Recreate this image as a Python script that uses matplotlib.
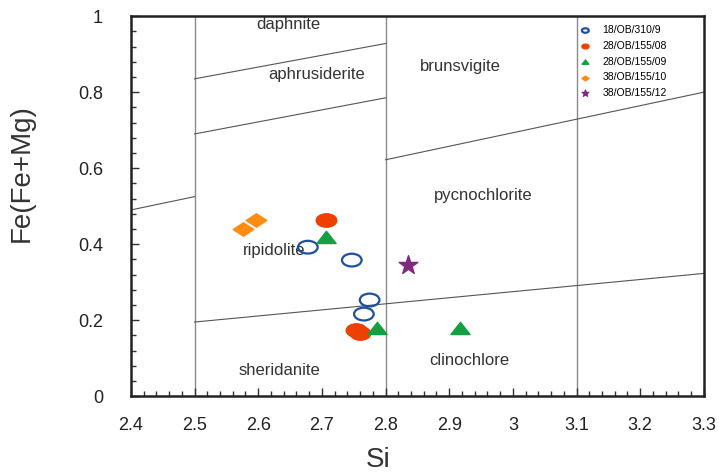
import matplotlib
matplotlib.use("Agg")
import matplotlib.pyplot as plt
import numpy as np
from matplotlib.path import Path
from matplotlib.ticker import MultipleLocator, FixedFormatter, FixedLocator

plt.rcParams['font.family'] = ['Liberation Sans', 'DejaVu Sans']

# sample data: Si vs Fe/(Fe+Mg)
s1_si = [2.678, 2.747, 2.775, 2.766]
s1_fe = [0.392, 0.358, 0.253, 0.216]
s2_si = [2.706, 2.754, 2.760]
s2_fe = [0.463, 0.175, 0.165]
s3_si = [2.706, 2.786, 2.917]
s3_fe = [0.416, 0.176, 0.176]
s4_si = [2.576, 2.596]
s4_fe = [0.440, 0.463]
s5_si = [2.835]
s5_fe = [0.345]
names = ['18/OB/310/9', '28/OB/155/08', '28/OB/155/09', '38/OB/155/10', '38/OB/155/12']

# field boundaries (Hey 1954)
vlines = [2.5, 2.8, 3.1]
bounds = [
    ([2.4, 2.5], [0.49, 0.525]),
    ([2.5, 2.8], [0.835, 0.928]),
    ([2.5, 2.8], [0.69, 0.785]),
    ([2.8, 3.3], [0.622, 0.80]),
    ([2.5, 3.3], [0.195, 0.323]),
]
fields = [('daphnite', 2.648, 0.979), ('aphrusiderite', 2.692, 0.847),
          ('brunsvigite', 2.917, 0.868), ('pycnochlorite', 2.954, 0.529),
          ('ripidolite', 2.625, 0.384), ('sheridanite', 2.634, 0.068),
          ('clinochlore', 2.932, 0.095)]

xt = [2.4, 2.5, 2.6, 2.7, 2.8, 2.9, 3.0, 3.1, 3.2, 3.3]
xtl = ['2.4', '2.5', '2.6', '2.7', '2.8', '2.9', '3', '3.1', '3.2', '3.3']
yt = [0, 0.2, 0.4, 0.6, 0.8, 1.0]
ytl = ['0', '0.2', '0.4', '0.6', '0.8', '1']


def squash(path, fy=0.65):
    # the original figure is stretched sideways, so markers are flattened
    v = path.vertices.copy()
    v[:, 1] *= fy
    return Path(v, path.codes)


ell = squash(Path.unit_circle())
dia = squash(Path([(0, 1), (1, 0), (0, -1), (-1, 0), (0, 1)],
                  [Path.MOVETO, Path.LINETO, Path.LINETO, Path.LINETO, Path.CLOSEPOLY]))
tri = squash(Path([(0, 1), (1, -0.7), (-1, -0.7), (0, 1)],
                  [Path.MOVETO, Path.LINETO, Path.LINETO, Path.CLOSEPOLY]), 0.75)

fig = plt.figure(figsize=(7.19, 4.75), dpi=100)
ax = fig.add_axes([0.182, 0.166, 0.797, 0.800])

for v in vlines:
    ax.axvline(v, color='#8a8a8a', lw=1.0, zorder=1)
for bx, by in bounds:
    ax.plot(bx, by, color='#555555', lw=0.8, zorder=1)
for t, x, y in fields:
    ax.text(x, y, t, ha='center', va='center', fontsize=12, color='#333333', zorder=2)

ax.scatter(s1_si, s1_fe, s=200, marker=ell, facecolors='none', edgecolors='#1f4fa0', linewidths=1.6, label=names[0], zorder=3)
ax.scatter(s2_si, s2_fe, s=220, marker=ell, color='#ee4000', label=names[1], zorder=3)
ax.scatter(s3_si, s3_fe, s=190, marker=tri, color='#14a040', label=names[2], zorder=3)
ax.scatter(s4_si, s4_fe, s=220, marker=dia, color='#ff8c10', label=names[3], zorder=3)
ax.scatter(s5_si, s5_fe, s=200, marker='*', color='#7e2a7e', label=names[4], zorder=3)

ax.set_xlim(2.4, 3.3)
ax.set_ylim(0, 1)
ax.xaxis.set_major_locator(FixedLocator(xt))
ax.xaxis.set_major_formatter(FixedFormatter(xtl))
ax.yaxis.set_major_locator(FixedLocator(yt))
ax.yaxis.set_major_formatter(FixedFormatter(ytl))
ax.xaxis.set_minor_locator(MultipleLocator(0.02))
ax.yaxis.set_minor_locator(MultipleLocator(0.04))
ax.tick_params(which='both', direction='in', width=1.0, colors='#333333')
ax.tick_params(which='major', length=6)
ax.tick_params(which='minor', length=3.5)
ax.tick_params(axis='x', which='major', pad=15, labelsize=13, labelcolor='#222222')
ax.tick_params(axis='y', which='major', pad=20, labelsize=13, labelcolor='#222222')
for sp in ax.spines.values():
    sp.set_linewidth(1.8)
    sp.set_color('#222222')

ax.set_xlabel('Si', fontsize=20, color='#333333')
ax.set_ylabel('Fe(Fe+Mg)', fontsize=20, color='#333333')
ax.xaxis.set_label_coords(0.431, -0.134)
ax.yaxis.set_label_coords(-0.168, 0.587)

leg = ax.legend(loc='upper left', bbox_to_anchor=(0.784, 0.976), frameon=False, fontsize=7.5,
                markerscale=0.35, handlelength=1.0, handletextpad=1.13, labelspacing=0.55,
                borderaxespad=0, borderpad=0)

fig.savefig('out.png', dpi=100)
